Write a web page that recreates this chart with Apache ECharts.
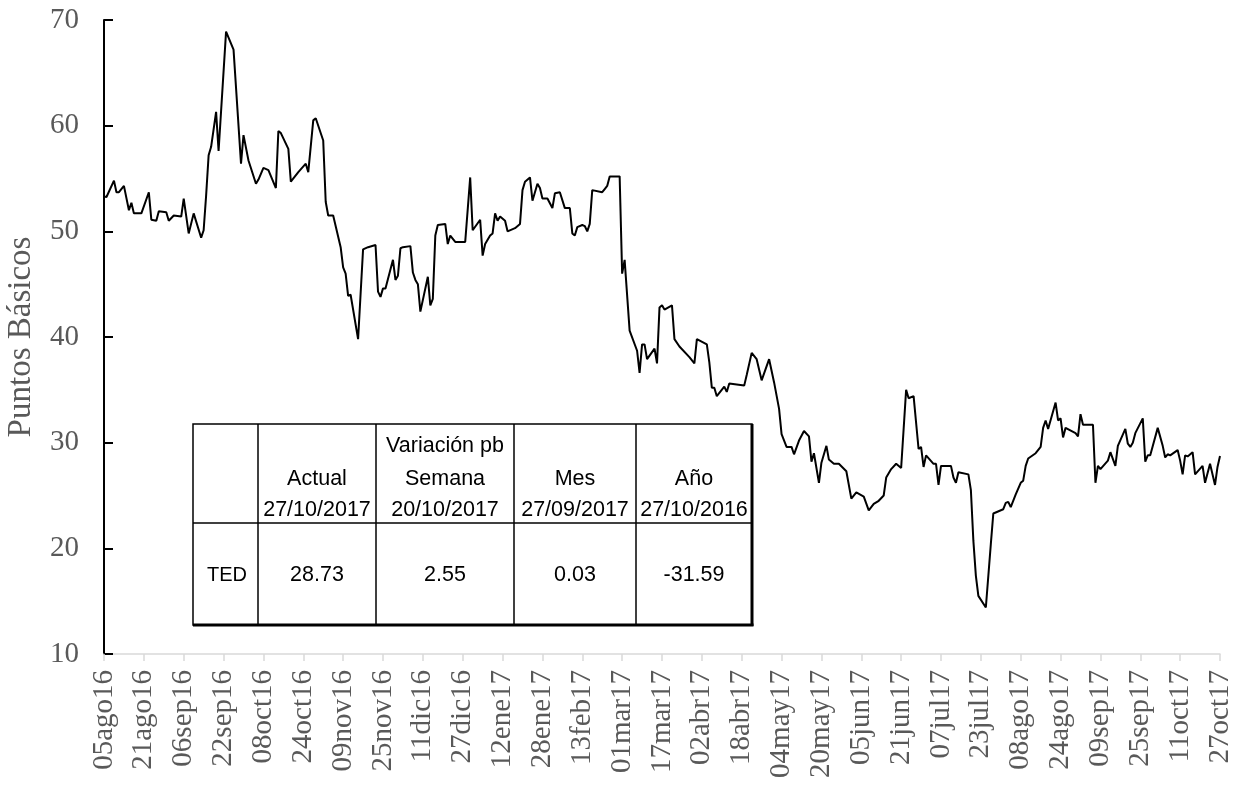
<!DOCTYPE html>
<html>
<head>
<meta charset="utf-8">
<script src="https://cdn.jsdelivr.net/npm/echarts@6/dist/echarts.min.js"></script>
<style>
html,body{margin:0;padding:0;background:#fff;}
#chart{width:1247px;height:797px;}
</style>
</head>
<body>
<div id="chart"></div>
<script>
// Days since 05ago16 (x) and TED spread in basis points (y)
var dias = [0,1,4,5,6,8,10,11,12,15,18,19,21,22,25,26,28,31,32,34,36,39,40,41,42,43,45,46,49,52,55,56,58,61,62,64,66,69,70,71,74,75,78,81,82,84,85,88,89,90,92,95,96,97,98,99,102,104,106,109,110,111,112,113,116,117,118,119,120,123,124,125,126,127,130,131,132,133,134,137,138,139,141,145,147,148,151,152,153,155,156,157,158,159,161,162,165,167,168,169,171,172,174,175,176,178,180,181,183,185,187,188,189,190,192,193,194,195,196,200,201,202,203,207,208,209,211,214,215,216,217,218,221,222,223,224,225,228,229,231,235,237,238,242,243,244,245,246,249,250,251,257,258,260,262,264,267,269,271,272,274,276,277,279,281,283,284,285,287,288,290,291,293,295,298,300,302,305,307,309,311,313,314,316,318,320,322,323,325,327,328,329,330,333,334,335,336,340,341,342,343,347,348,349,350,351,354,356,357,361,362,363,364,366,368,369,370,371,374,376,377,378,379,382,383,384,385,386,390,391,392,393,397,398,399,400,403,404,406,407,410,411,412,413,414,417,418,419,420,423,425,426,427,428,431,432,433,434,435,437,438,441,442,444,446,447,448];
var ted = [53.3,53.25,54.8,53.7,53.7,54.3,52.0,52.7,51.7,51.7,53.7,51.1,51.0,51.9,51.8,51.0,51.5,51.4,53.1,49.8,51.7,49.4,50.1,53.4,57.2,58.0,61.3,57.6,68.9,67.2,56.4,59.1,56.7,54.5,54.9,56.0,55.8,54.1,59.5,59.3,57.8,54.7,55.6,56.4,55.6,60.5,60.7,58.6,52.8,51.5,51.5,48.5,46.6,46.0,43.9,44.0,39.8,48.3,48.5,48.7,44.3,43.8,44.6,44.6,47.3,45.4,45.8,48.4,48.5,48.6,46.1,45.4,45.0,42.4,45.7,43.0,43.6,49.6,50.6,50.7,48.8,49.6,49.0,49.0,55.1,50.1,51.1,47.7,48.8,49.6,49.8,51.7,51.0,51.4,51.0,50.0,50.3,50.7,53.9,54.7,55.1,52.9,54.5,54.1,53.1,53.1,52.2,53.6,53.7,52.2,52.2,49.8,49.6,50.4,50.6,50.5,50.0,50.7,53.9,53.7,54.0,54.3,55.2,55.2,46.0,47.3,40.6,38.7,36.6,39.3,39.3,37.9,38.9,37.5,42.8,43.0,42.6,43.0,39.8,39.1,38.1,37.5,39.8,39.3,37.6,35.2,35.2,34.4,35.3,34.8,35.6,35.4,36.4,38.5,37.9,35.9,37.9,35.7,33.2,30.8,29.6,29.6,28.9,30.2,31.1,30.6,28.2,29.0,26.2,28.1,29.7,28.4,28.0,28.0,27.3,24.7,25.3,24.9,23.6,24.2,24.5,25.0,26.7,27.5,28.0,27.6,35.0,34.2,34.4,29.4,29.6,27.7,28.8,28.0,28.0,26.0,27.8,27.8,26.7,26.2,27.2,27.0,25.5,20.7,17.4,15.5,14.4,20.4,23.3,23.7,24.3,24.4,23.9,25.1,26.2,26.4,27.8,28.5,29.0,29.6,31.4,32.1,31.3,33.8,32.1,32.3,30.5,31.4,30.9,30.6,32.7,31.7,31.7,26.2,27.8,27.5,28.3,29.1,27.8,29.7,31.3,29.9,29.6,30.0,30.9,32.3,28.2,28.8,28.8,31.4,29.7,28.6,28.9,28.8,29.3,28.3,27.0,28.8,28.7,29.1,27.0,27.8,26.2,28.0,26.0,27.7,28.73];
var xTickLabels = ['05ago16','21ago16','06sep16','22sep16','08oct16','24oct16','09nov16','25nov16','11dic16','27dic16','12ene17','28ene17','13feb17','01mar17','17mar17','02abr17','18abr17','04may17','20may17','05jun17','21jun17','07jul17','23jul17','08ago17','24ago17','09sep17','25sep17','11oct17','27oct17'];
var tickStep = 16;
var yTicks = [10,20,30,40,50,60,70];

// table contents
var tablaFila0 = ['', '', 'Variación pb', '', ''];
var tablaFila1 = ['', 'Actual', 'Semana', 'Mes', 'Año'];
var tablaFila2 = ['', '27/10/2017', '20/10/2017', '27/09/2017', '27/10/2016'];
var tablaFila3 = ['TED', '28.73', '2.55', '0.03', '-31.59'];

var serie = dias.map(function(d, i){ return [d, ted[i]]; });

var chart = echarts.init(document.getElementById('chart'), null, {renderer:'canvas'});

// table layout
var colX = [193, 258, 376, 514, 636, 752];
var tTop = 424, tMid = 523, tBot = 625;
var rowY = [446, 479, 510, 575];
var graphics = [];
graphics.push({type:'rect', shape:{x:colX[0], y:tTop, width:colX[5]-colX[0], height:tBot-tTop}, style:{fill:'#fff', stroke:'#000', lineWidth:1.5}, z:10});
for (var c = 1; c < 5; c++) {
  graphics.push({type:'line', shape:{x1:colX[c], y1:tTop, x2:colX[c], y2:tBot}, style:{stroke:'#000', lineWidth:1.5}, z:11});
}
graphics.push({type:'line', shape:{x1:colX[0], y1:tMid, x2:colX[5], y2:tMid}, style:{stroke:'#000', lineWidth:1.5}, z:11});
graphics.push({type:'line', shape:{x1:colX[5], y1:tTop, x2:colX[5], y2:tBot+1}, style:{stroke:'#000', lineWidth:3}, z:11});
graphics.push({type:'line', shape:{x1:colX[0], y1:tBot, x2:colX[5]+1.5, y2:tBot}, style:{stroke:'#000', lineWidth:3}, z:11});
[tablaFila0, tablaFila1, tablaFila2, tablaFila3].forEach(function(fila, r){
  fila.forEach(function(txt, c){
    if (!txt) return;
    var size = (c === 0) ? 20 : 21.5;
    var cx = (c === 0) ? 227 : (colX[c]+colX[c+1])/2;
    graphics.push({type:'text', x:cx, y:rowY[r], z:12,
      style:{text:txt, fill:'#000', font:size + 'px "Liberation Sans", Arial, sans-serif', textAlign:'center', textVerticalAlign:'middle'}});
  });
});

chart.setOption({
  animation:false,
  backgroundColor:'#fff',
  grid:{left:104, right:27, top:20, bottom:143, containLabel:false, outerBoundsMode:'none'},
  xAxis:{
    type:'value', min:0, max:448, interval:tickStep,
    axisLine:{show:true, lineStyle:{color:'#d9d9d9', width:1.5}},
    axisTick:{show:true, inside:false, length:7, lineStyle:{color:'#d9d9d9', width:1.5}},
    splitLine:{show:false},
    axisLabel:{rotate:90, margin:16, color:'#595959', fontSize:29, fontFamily:'"Liberation Serif","Times New Roman",serif',
      formatter:function(v){ return xTickLabels[Math.round(v/tickStep)] || ''; }}
  },
  yAxis:{
    type:'value', min:yTicks[0], max:yTicks[yTicks.length-1], interval:10,
    name:'Puntos Básicos', nameLocation:'middle', nameRotate:90, nameGap:66,
    nameTextStyle:{color:'#595959', fontSize:33, fontFamily:'"Liberation Serif","Times New Roman",serif'},
    axisLine:{show:true, onZero:false, lineStyle:{color:'#000', width:2}},
    axisTick:{show:true, inside:true, length:9, lineStyle:{color:'#000', width:2}},
    splitLine:{show:false},
    axisLabel:{margin:25, color:'#595959', fontSize:29, fontFamily:'"Liberation Serif","Times New Roman",serif'}
  },
  series:[{
    type:'line', data:serie, showSymbol:false, symbol:'none', smooth:false,
    lineStyle:{color:'#000', width:2}, z:5
  }],
  graphic:graphics
});
</script>
</body>
</html>
